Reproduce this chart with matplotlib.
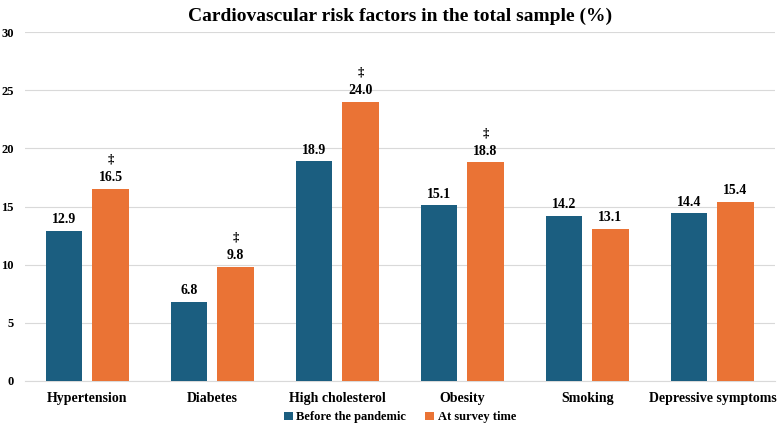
import matplotlib
matplotlib.use("Agg")
import matplotlib.pyplot as plt
import numpy as np

categories = ["Hypertension", "Diabetes", "High cholesterol", "Obesity",
              "Smoking", "Depressive symptoms"]
before = [12.9, 6.8, 18.9, 15.1, 14.2, 14.4]
survey = [16.5, 9.8, 24.0, 18.8, 13.1, 15.4]
significant = [True, True, True, True, False, False]

BLUE = "#1b5e80"
ORANGE = "#ea7335"

plt.rcParams["font.family"] = ["Liberation Serif", "DejaVu Serif"]
plt.rcParams["font.weight"] = "bold"

fig = plt.figure(figsize=(7.78, 4.28), dpi=100)
ax = fig.add_axes([0.032, 0.110, 0.964, 0.815])

x = np.arange(len(categories))
w = 0.29
off = 0.185
b1 = ax.bar(x - off, before, w, color=BLUE, label="Before the pandemic", zorder=3)
b2 = ax.bar(x + off, survey, w, color=ORANGE, label="At survey time", zorder=3)

for bar, val in zip(b1, before):
    ax.text(bar.get_x() + bar.get_width() / 2, val + 0.4, f"{val:.1f}",
            ha="center", va="bottom", fontsize=10, fontweight="bold")
for bar, val, sig in zip(b2, survey, significant):
    ax.text(bar.get_x() + bar.get_width() / 2, val + 0.4, f"{val:.1f}",
            ha="center", va="bottom", fontsize=10, fontweight="bold")
    if sig:
        ax.text(bar.get_x() + bar.get_width() / 2, val + 2.0, "\u2021",
                ha="center", va="bottom", fontsize=9)

ax.set_xlim(-0.5, len(categories) - 0.5)
ax.set_ylim(0, 30)
ax.set_yticks(range(0, 31, 5))
ax.set_xticks(x)
ax.set_xticklabels(categories, fontsize=10, fontweight="bold")
ax.tick_params(axis="y", labelsize=9, length=0, pad=8)
ax.tick_params(axis="x", length=0, pad=8)
ax.grid(axis="y", color="#d9d9d9", linewidth=0.8, zorder=0)
for s in ["top", "right", "left"]:
    ax.spines[s].set_visible(False)
ax.spines["bottom"].set_color("#d9d9d9")

ax.set_title("Cardiovascular risk factors in the total sample (%)",
             fontsize=14, fontweight="bold", pad=8)
ax.legend(loc="upper center", bbox_to_anchor=(0.5, -0.055), ncol=2,
          frameon=False, fontsize=9, handlelength=0.7, handleheight=0.7,
          columnspacing=1.5, handletextpad=0.3)

fig.savefig("out.png", dpi=100)
